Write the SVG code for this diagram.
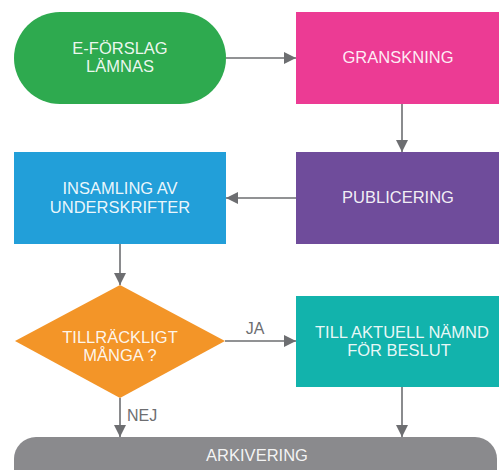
<svg xmlns="http://www.w3.org/2000/svg" width="499" height="470" viewBox="0 0 499 470">
<defs>
<marker id="ah" viewBox="0 0 10 10" refX="10" refY="5" markerWidth="12" markerHeight="12" markerUnits="userSpaceOnUse" orient="auto">
<path d="M0,0 L10,5 L0,10 z" fill="#6d6e71"/>
</marker>
<style>
.t{font-family:"Liberation Sans",Arial,sans-serif;font-size:16.5px;fill:#fff;fill-opacity:0.92;text-anchor:middle}
.l{font-family:"Liberation Sans",Arial,sans-serif;font-size:16px;fill:#6d6e71}
.c{stroke:#6d6e71;stroke-width:1.6;fill:none;marker-end:url(#ah)}
</style>
</defs>
<rect width="499" height="470" fill="#fff"/>
<g id="connectors">
<line class="c" x1="226" y1="58" x2="296" y2="58"/>
<line class="c" x1="402" y1="104" x2="402" y2="152"/>
<line class="c" x1="296" y1="198" x2="226" y2="198"/>
<line class="c" x1="120" y1="244" x2="120" y2="285"/>
<line class="c" x1="225" y1="341" x2="296" y2="341"/>
<text class="l" x="255" y="334" text-anchor="middle">JA</text>
<line class="c" x1="120" y1="398" x2="120" y2="437"/>
<text class="l" x="127" y="421">NEJ</text>
<line class="c" x1="402" y1="387" x2="402" y2="437"/>
</g>
<g id="e-forslag">
<rect x="14" y="12" width="212" height="92" rx="46" fill="#2eaa4f"/>
<text class="t" x="120" y="54">E-FÖRSLAG</text>
<text class="t" x="120" y="72">LÄMNAS</text>
</g>
<g id="granskning">
<rect x="296" y="12" width="203" height="92" fill="#ec3b94"/>
<text class="t" x="398" y="63">GRANSKNING</text>
</g>
<g id="publicering">
<rect x="296" y="152" width="203" height="92" fill="#6f4c9b"/>
<text class="t" x="398" y="203">PUBLICERING</text>
</g>
<g id="insamling">
<rect x="14" y="152" width="212" height="92" fill="#229fd9"/>
<text class="t" x="120" y="194">INSAMLING AV</text>
<text class="t" x="120" y="213">UNDERSKRIFTER</text>
</g>
<g id="tillrackligt">
<polygon points="120,285 225,341 120,398 15,341" fill="#f39528"/>
<text class="t" x="120" y="343">TILLRÄCKLIGT</text>
<text class="t" x="120" y="361">MÅNGA ?</text>
</g>
<g id="till-aktuell">
<rect x="296" y="296" width="203" height="91" fill="#12b3ac"/>
<text class="t" x="402" y="338">TILL AKTUELL NÄMND</text>
<text class="t" x="399" y="356">FÖR BESLUT</text>
</g>
<g id="arkivering">
<rect x="14" y="437" width="483" height="60" rx="22" fill="#8a8a8d"/>
<text class="t" x="257" y="461">ARKIVERING</text>
</g>
</svg>
